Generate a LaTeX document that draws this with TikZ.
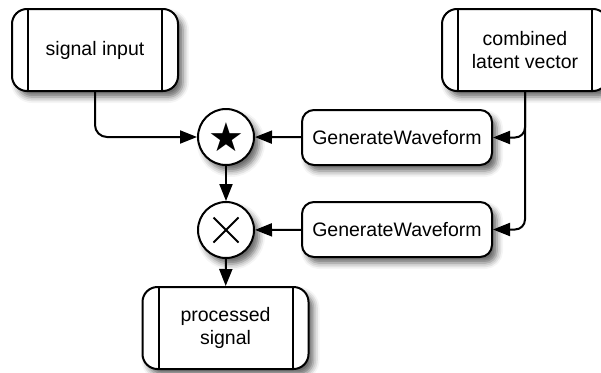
\documentclass[tikz,border=0pt]{standalone}
\usepackage{fontspec}
\setmainfont{Liberation Sans}
\newfontfamily\symfont{DejaVu Sans}
\usetikzlibrary{arrows.meta,shadows.blur}

\tikzset{
  flow/.style={line width=2pt, -{Triangle[length=17pt,width=13pt]}},
  softshadow/.style={blur shadow={shadow xshift=5pt, shadow yshift=-6pt,
    shadow blur radius=6pt, shadow opacity=60}},
  procbox/.style={draw, line width=2pt, fill=white, rounded corners=15pt,
    minimum width=166pt, minimum height=82pt, align=center, softshadow},
  fnbox/.style={draw, line width=2pt, fill=white, rounded corners=12pt,
    minimum width=190pt, minimum height=55pt, softshadow},
  opnode/.style={draw, circle, line width=2pt, fill=white,
    minimum size=56pt, inner sep=0pt, softshadow},
}

\begin{document}
\begin{tikzpicture}[x=1pt, y=-1pt, font=\fontsize{19.5}{23}\selectfont]
  \useasboundingbox (0,0) rectangle (601,372);
  % sources, operators and result
  \node[procbox] (sigin) at (95,50) {signal input};
  \node[procbox] (latent) at (525,50) {combined\\latent vector};
  \node[opnode] (conv) at (226,137) {\symfont\fontsize{40}{40}\selectfont ★};
  \node[opnode] (mult) at (226,230) {};
  \node[fnbox] (wave1) at (397,137.5) {GenerateWaveform};
  \node[fnbox] (wave2) at (397,229.5) {GenerateWaveform};
  \node[procbox] (procsig) at (225.5,328) {processed\\signal};
  % side bars of the process boxes
  \foreach \n in {sigin,latent,procsig} {
    \draw[line width=2pt] ([xshift=17pt]\n.north west) -- ([xshift=17pt]\n.south west);
    \draw[line width=2pt] ([xshift=-17pt]\n.north east) -- ([xshift=-17pt]\n.south east);
  }
  % product sign
  \draw[line width=1.8pt] ([shift={(-12.5,-12.5)}]mult.center) -- ([shift={(12.5,12.5)}]mult.center);
  \draw[line width=1.8pt] ([shift={(-12.5,12.5)}]mult.center) -- ([shift={(12.5,-12.5)}]mult.center);
  % connectors
  \draw[flow, rounded corners=12pt] (sigin.south) |- (conv.west);
  \draw[flow, rounded corners=10pt] (latent.south) |- (wave1.east);
  \draw[flow, rounded corners=10pt] (latent.south) |- (wave2.east);
  \draw[flow] (wave1) -- (conv);
  \draw[flow] (wave2) -- (mult);
  \draw[flow] (conv) -- (mult);
  \draw[flow] (mult) -- (procsig);
\end{tikzpicture}
\end{document}
